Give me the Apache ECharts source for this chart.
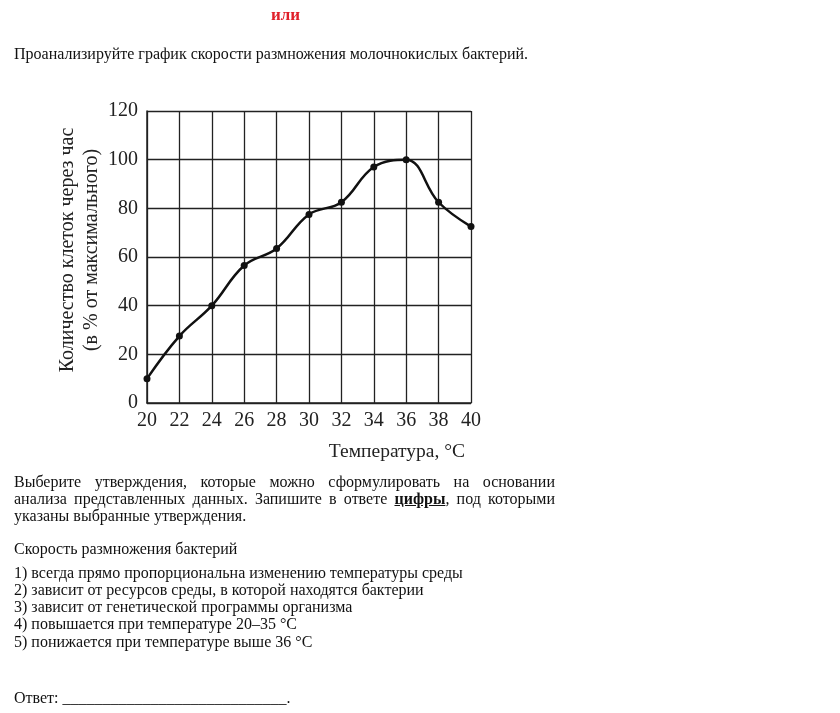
<!DOCTYPE html>
<html>
<head>
<meta charset="utf-8">
<script src="https://cdn.jsdelivr.net/npm/echarts@6/dist/echarts.min.js"></script>
<style>
  html, body { margin: 0; padding: 0; background: #fff; }
  body { width: 840px; height: 713px; position: relative; overflow: hidden;
         font-family: "Liberation Serif", "DejaVu Serif", serif; color: #111; }
  #chart { position: absolute; left: 0; top: 0; width: 840px; height: 713px; }
  .t { position: absolute; left: 14px; font-size: 16px; line-height: 17px; white-space: nowrap; }
  .j { position: absolute; left: 14px; width: 541px; font-size: 16px; line-height: 17px; text-align: justify; }
  .j span { display: block; text-align-last: justify; }
  .j span.last { text-align-last: left; }
</style>
</head>
<body>
<div id="chart"></div>
<div class="t" style="left:271px; top:6px; color:#e0202a; font-weight:bold; font-size:17px;">или</div>
<div class="t" style="top:45px;">Проанализируйте график скорости размножения молочнокислых бактерий.</div>
<div class="j" style="top:473px;">
  <span>Выберите утверждения, которые можно сформулировать на основании</span>
  <span>анализа представленных данных. Запишите в ответе <b><u>цифры</u></b>, под которыми</span>
  <span class="last">указаны выбранные утверждения.</span>
</div>
<div class="t" style="top:540px;">Скорость размножения бактерий</div>
<div class="t" style="top:564px;">1) всегда прямо пропорциональна изменению температуры среды</div>
<div class="t" style="top:581px;">2) зависит от ресурсов среды, в которой находятся бактерии</div>
<div class="t" style="top:598px;">3) зависит от генетической программы организма</div>
<div class="t" style="top:615px;">4) повышается при температуре 20–35 °C</div>
<div class="t" style="top:633px;">5) понижается при температуре выше 36 °C</div>
<div class="t" style="top:689px;">Ответ: ____________________________.</div>
<script>
// данные графика
var temps = [20, 22, 24, 26, 28, 30, 32, 34, 36, 38, 40];
var cells = [10, 27.5, 40, 56.5, 63.5, 77.5, 82.5, 97, 100, 82.5, 72.5];
var xName = 'Температура, °C';
var yName = 'Количество клеток через час\n(в % от максимального)';

var chart = echarts.init(document.getElementById('chart'));

var option = {
  animation: false,
  grid: {
    left: 147,
    top: 111,
    width: 324,
    height: 292
  },
  xAxis: {
    type: 'value',
    min: 20,
    max: 40,
    interval: 2,
    name: xName,
    nameLocation: 'end',
    nameGap: 0,
    nameTextStyle: {
      fontFamily: 'Liberation Serif',
      fontSize: 19.5,
      color: '#222',
      align: 'right',
      verticalAlign: 'top',
      padding: [39, 6, 0, 0]
    },
    axisLine: { show: true, lineStyle: { color: '#222', width: 1.5 } },
    axisTick: { show: false },
    axisLabel: { fontFamily: 'Liberation Serif', fontSize: 20, color: '#222', margin: 8 },
    splitLine: { show: true, lineStyle: { color: '#222', width: 1.3 } }
  },
  yAxis: {
    type: 'value',
    min: 0,
    max: 120,
    interval: 20,
    name: yName,
    nameLocation: 'middle',
    nameRotate: 90,
    nameGap: 31,
    nameTextStyle: {
      fontFamily: 'Liberation Serif',
      fontSize: 20,
      lineHeight: 24,
      color: '#222',
      padding: [0, 0, 0, 14]
    },
    axisLine: { show: true, lineStyle: { color: '#222', width: 1.5 } },
    axisTick: { show: false },
    axisLabel: { fontFamily: 'Liberation Serif', fontSize: 20, color: '#222', margin: 9 },
    splitLine: { show: true, lineStyle: { color: '#222', width: 1.3 } }
  },
  series: [
    {
      type: 'line',
      smooth: 0.4,
      data: temps.map(function (t, i) { return [t, cells[i]]; }),
      symbol: 'circle',
      symbolSize: 7,
      itemStyle: { color: '#111' },
      lineStyle: { color: '#111', width: 2.5 }
    }
  ]
};

chart.setOption(option);
</script>
</body>
</html>
